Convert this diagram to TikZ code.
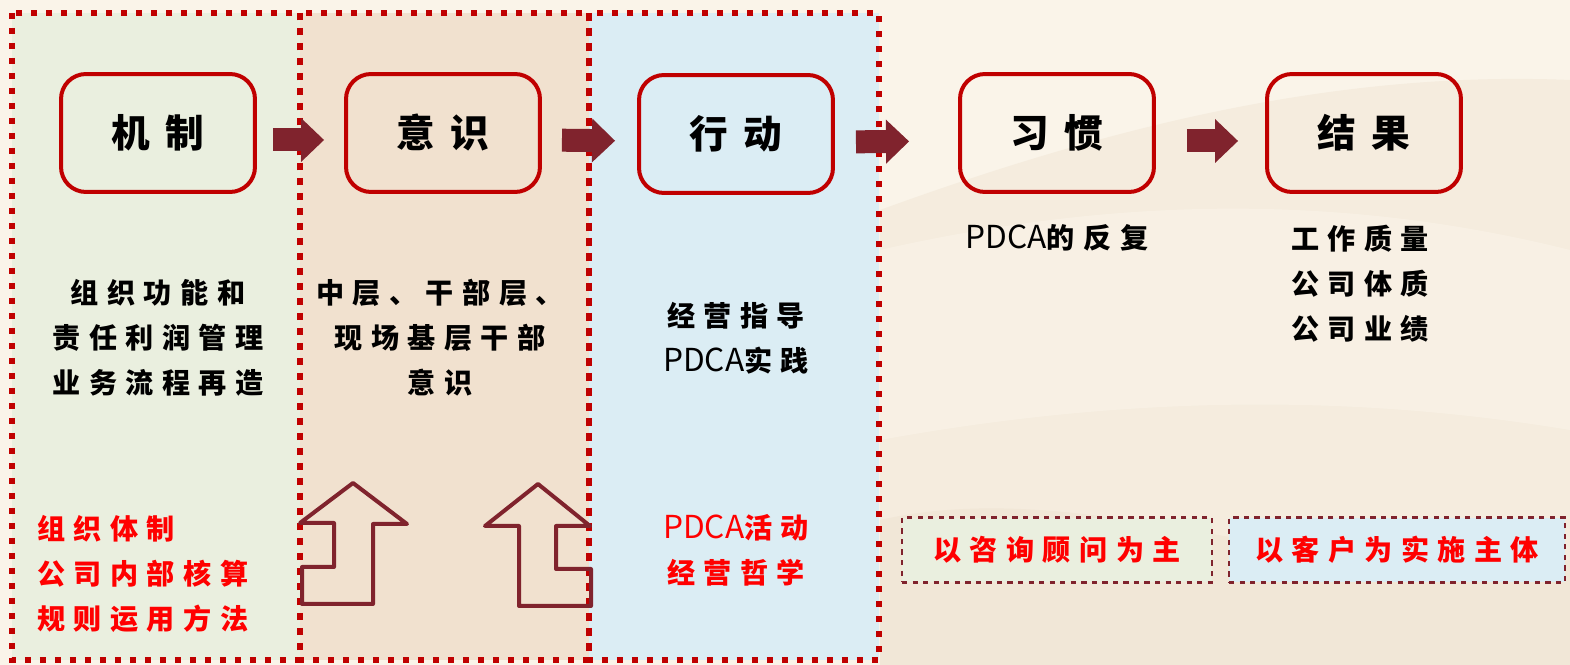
\documentclass[tikz,border=0pt]{standalone}
\usepackage{fontspec}
\newfontfamily\cjk[LetterSpace=30]{Noto Sans CJK SC}
\newfontfamily\cjktitle[LetterSpace=40]{Noto Sans CJK SC}
\newfontfamily\latinpart{Noto Sans CJK SC}
\newcommand\pdca{{\latinpart\mdseries\fontsize{18}{25.6}\selectfont PDCA}}
\usetikzlibrary{arrows.meta}

\definecolor{bgcream}{RGB}{250,244,233}
\definecolor{hill}{RGB}{236,222,202}
\definecolor{boxred}{RGB}{192,0,0}
\definecolor{arrowred}{RGB}{128,35,45}
\definecolor{greenfill}{RGB}{234,239,223}
\definecolor{peachfill}{RGB}{241,225,207}
\definecolor{bluefill}{RGB}{219,237,244}
\definecolor{textred}{RGB}{255,0,0}

\begin{document}
\begin{tikzpicture}[x=0.02cm,y=-0.02cm,
	stage/.style={draw=boxred,line width=0.08cm,rounded corners=0.5cm,minimum width=3.88cm,minimum height=2.36cm,inner sep=0pt,font=\cjktitle\bfseries\fontsize{22}{26}\selectfont},
	body/.style={align=center,inner sep=0pt,font=\cjk\bfseries\fontsize{16}{25.6}\selectfont},
	redtext/.style={body,text=textred},
	column/.style={draw=boxred,line width=0.13cm,dash pattern=on 0.13cm off 0.17cm},
	flow/.style={draw=arrowred,line width=0.46cm,-{Triangle[width=0.88cm,length=0.46cm,line width=0pt]}},
	uparrow/.style={draw=arrowred,line width=0.08cm,line join=round},
	note/.style={draw=arrowred,dashed,line width=1.2pt,minimum width=6.2cm,minimum height=1.3cm,inner sep=0pt,text=textred,font=\cjk\bfseries\fontsize{16}{20}\selectfont}]

	\useasboundingbox (0,0) rectangle (1570,665);

	%background
	\fill[bgcream] (0,0) rectangle (1570,665);
	\fill[hill,opacity=0.35] (880,210) .. controls (1100,130) and (1330,70) .. (1570,80) -- (1570,665) -- (880,665) -- cycle;
	\fill[bgcream,opacity=0.6] (880,250) .. controls (1100,200) and (1330,190) .. (1570,250) -- (1570,430) .. controls (1330,390) and (1100,400) .. (880,440) -- cycle;
	\fill[hill,opacity=0.35] (880,520) .. controls (1100,470) and (1350,600) .. (1570,560) -- (1570,665) -- (880,665) -- cycle;

	%columns
	\fill[greenfill] (12,13) rectangle (300,660);
	\fill[peachfill] (300,13) rectangle (589,660);
	\fill[bluefill] (589,13) rectangle (879,660);
	\draw[column] (12,13) rectangle (300,660);
	\draw[column] (300,13) rectangle (589,660);
	\draw[column] (589,13) rectangle (879,660);

	%nodes
	\node[stage] (jizhi) at (158,133) {机制};
	\node[stage] (yishi) at (443,133) {意识};
	\node[stage] (xingdong) at (736,134) {行动};
	\node[stage] (xiguan) at (1057,133) {习惯};
	\node[stage] (jieguo) at (1364,133) {结果};

	\node[body] (jizhi-text) at (158,338) {组织功能和\\责任利润管理\\业务流程再造};
	\node[body] (yishi-text) at (440,338) {中层、干部层、\\现场基层干部\\意识};
	\node[body] (xingdong-text) at (736,338) {经营指导\\\pdca 实践};
	\node[body] (xiguan-text) at (1057,238) {\pdca 的反复};
	\node[body] (jieguo-text) at (1360,284) {工作质量\\公司体质\\公司业绩};

	\node[redtext,align=left,anchor=west] (jizhi-red) at (37,574) {组织体制\\公司内部核算\\规则运用方法};
	\node[redtext] (xingdong-red) at (736,550) {\pdca 活动\\经营哲学};

	\node[note,fill=greenfill] (consult) at (1057,550) {以咨询顾问为主};
	\node[note,fill=bluefill,minimum width=6.72cm] (client) at (1397,550) {以客户为实施主体};

	%edges between stages
	\draw[flow,shorten <=0.32cm,shorten >=0.4cm] ([yshift=-0.14cm]jizhi.east) -- ([yshift=-0.14cm]yishi.west);
	\draw[flow,shorten <=0.4cm,shorten >=0.44cm] ([yshift=-0.14cm]yishi.east) -- ([yshift=-0.14cm]xingdong.west);
	\draw[flow,shorten <=0.42cm,shorten >=0.98cm] ([yshift=-0.16cm]xingdong.east) -- ([yshift=-0.16cm]xiguan.west);
	\draw[flow,shorten <=0.62cm,shorten >=0.54cm] ([yshift=-0.16cm]xiguan.east) -- ([yshift=-0.16cm]jieguo.west);

	%up arrows
	\draw[uparrow] (373,604) -- (373,524) -- (407,524) -- (353,483) -- (300,523) -- (334,523) -- (334,567) -- (302,567) -- (302,604) -- cycle;
	\draw[uparrow] (519,606) -- (519,526) -- (485,526) -- (538,484) -- (590,526) -- (556,526) -- (556,569) -- (591,569) -- (591,606) -- cycle;

\end{tikzpicture}
\end{document}
